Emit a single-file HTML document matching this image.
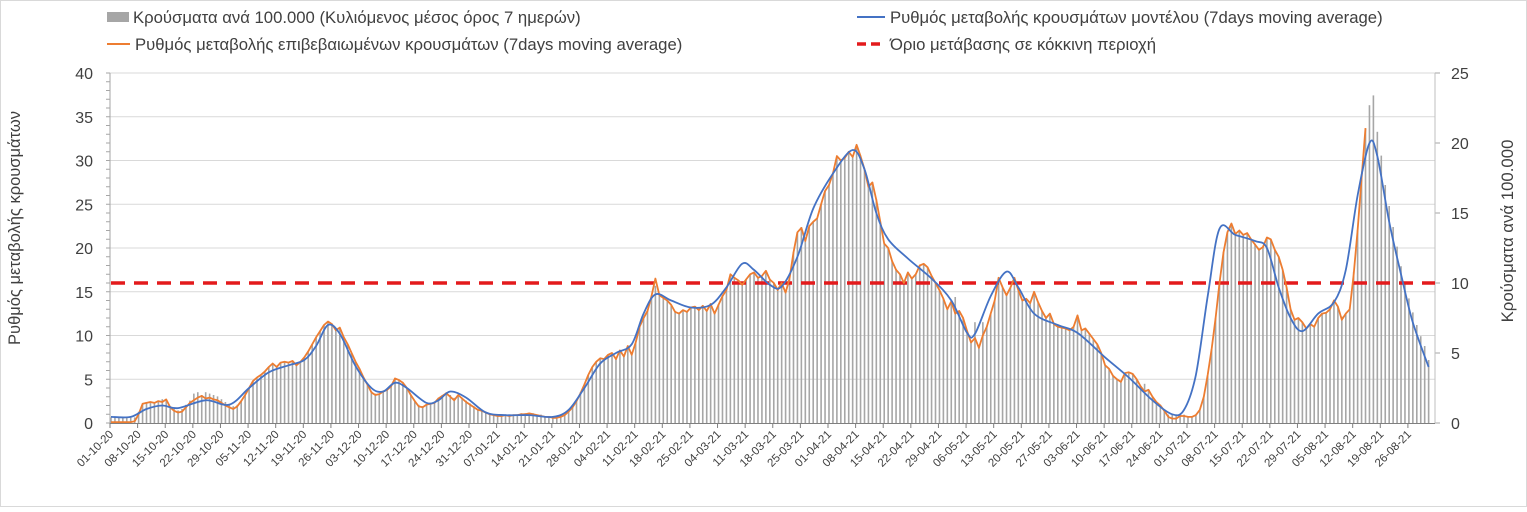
<!DOCTYPE html>
<html><head><meta charset="utf-8">
<style>
html,body{margin:0;padding:0;background:#fff;}
svg text{font-family:"Liberation Sans",sans-serif;fill:#404040;}
</style></head>
<body>
<svg id="chart" width="1527" height="507" viewBox="0 0 1527 507" xmlns="http://www.w3.org/2000/svg">
<rect x="0.5" y="0.5" width="1526" height="506" fill="#fff" stroke="#d9d9d9"/>
<g id="grid"></g>
<g id="bars"></g>
<g id="axes"></g>
<g id="lines"></g>
<g id="legend">
  <g>
    <rect x="107" y="12" width="22" height="10" fill="#a6a6a6"/>
    <text x="133" y="23" font-size="16.7">Κρούσματα ανά 100.000 (Κυλιόμενος μέσος όρος 7 ημερών)</text>
  </g>
  <g>
    <line x1="857" y1="17" x2="885" y2="17" stroke="#4472c4" stroke-width="2"/>
    <text x="890" y="23" font-size="16.7">Ρυθμός μεταβολής κρουσμάτων μοντέλου (7days moving average)</text>
  </g>
  <g>
    <line x1="107" y1="44" x2="130" y2="44" stroke="#ed7d31" stroke-width="2"/>
    <text x="135" y="50" font-size="16.7">Ρυθμός μεταβολής επιβεβαιωμένων κρουσμάτων (7days moving average)</text>
  </g>
  <g>
    <line x1="857" y1="44" x2="885" y2="44" stroke="#e31a1c" stroke-width="3.5" stroke-dasharray="9,5"/>
    <text x="890" y="50" font-size="16.7">Όριο μετάβασης σε κόκκινη περιοχή</text>
  </g>
</g>
<text transform="translate(20,228) rotate(-90)" text-anchor="middle" font-size="16.5">Ρυθμός μεταβολής κρουσμάτων</text>
<text transform="translate(1513,231) rotate(-90)" text-anchor="middle" font-size="16.8">Κρούσματα ανά 100.000</text>
</svg>
<script>
const leftTicks = [0,5,10,15,20,25,30,35,40];
const rightTicks = [0,5,10,15,20,25];
const threshold = 16;
const confirmedRate = [
0.1,0.1,0.1,0.1,0.1,0.1,0.2,
1.0,2.2,2.3,2.4,2.3,2.5,2.4,
2.7,1.8,1.4,1.2,1.3,1.8,2.3,
2.6,2.9,3.1,2.8,2.9,2.7,2.6,
2.3,2.0,1.8,1.6,1.9,2.5,3.2,
4.0,4.8,5.2,5.5,5.9,6.4,6.8,
6.4,6.9,7.0,6.9,7.1,6.6,7.0,
7.5,8.2,9.0,9.8,10.5,11.2,11.6,
11.3,10.6,10.9,9.8,9.0,8.0,7.0,
6.2,5.2,4.4,3.5,3.2,3.3,3.6,
3.8,4.2,5.1,4.9,4.6,4.0,3.2,
2.5,1.9,1.8,2.1,2.2,2.3,2.8,
3.1,3.4,3.0,2.6,3.2,2.8,2.4,
2.1,1.8,1.5,1.4,1.2,1.0,0.9,
0.8,0.8,0.9,0.8,0.9,0.9,1.0,
1.0,1.1,1.0,0.9,0.8,0.7,0.7,
0.6,0.6,0.7,0.9,1.3,1.8,2.5,
3.4,4.4,5.5,6.4,7.0,7.4,7.3,
7.8,8.0,7.3,8.3,7.6,8.8,7.8,
9.2,11.0,12.0,12.8,14.5,16.5,14.6,
14.3,14.0,13.5,12.7,12.5,12.9,12.7,
13.2,13.3,12.9,13.4,12.8,13.6,12.5,
13.5,14.5,15.2,17.0,16.6,16.3,15.8,
16.4,17.0,17.2,16.6,16.8,17.4,16.4,
16.0,15.2,16.0,14.9,16.5,19.5,21.8,
22.3,20.8,22.5,23.0,23.4,25.0,26.5,
27.2,28.5,30.5,30.0,30.3,31.0,30.4,
31.8,30.5,29.0,27.0,27.5,25.5,23.0,
20.5,20.0,18.5,17.5,17.0,16.0,17.2,
16.5,17.0,18.0,18.2,17.8,16.8,16.0,
15.2,14.2,13.0,13.9,12.5,12.8,12.0,
10.5,9.2,9.7,8.6,10.0,11.0,12.5,
14.0,16.6,15.5,14.6,15.5,16.6,15.2,
14.0,14.2,13.7,15.0,13.8,12.8,12.0,
12.5,11.3,11.0,10.9,10.8,10.6,11.0,
12.3,10.6,10.8,10.2,9.6,9.0,8.0,
6.6,6.2,5.4,5.0,4.7,5.7,5.8,
5.6,5.0,4.2,3.6,3.8,3.0,2.4,
2.0,1.4,0.7,0.5,0.5,0.8,0.8,
0.7,0.7,0.9,1.5,3.0,5.5,8.5,
12.0,16.0,19.5,21.8,22.8,21.6,22.0,
21.5,21.7,21.0,20.4,19.8,20.1,21.2,
21.0,19.8,19.0,17.5,15.5,13.0,11.8,
12.0,11.5,10.8,11.3,11.0,12.0,12.5,
12.6,13.0,14.0,13.3,11.8,12.5,13.0,
17.0,22.0,28.0,33.7];
const casesPer100k = [
0.4,0.4,0.4,0.4,0.4,0.4,0.4,
0.8,1.4,1.5,1.5,1.5,1.6,1.7,
1.6,1.2,1.0,0.9,1.0,1.3,1.6,
2.1,2.2,2.0,2.2,2.1,2.0,1.9,
1.7,1.5,1.3,1.2,1.3,1.6,2.0,
2.5,3.0,3.2,3.4,3.7,4.0,4.2,
4.1,4.3,4.4,4.3,4.4,4.2,4.4,
4.7,5.1,5.6,6.1,6.6,7.0,7.2,
7.1,6.7,6.8,6.1,5.6,5.0,4.4,
3.9,3.3,2.8,2.3,2.1,2.1,2.3,
2.4,2.7,3.2,3.1,2.9,2.5,2.0,
1.6,1.3,1.2,1.3,1.4,1.5,1.8,
2.0,2.2,2.0,1.8,2.0,1.8,1.6,
1.4,1.2,1.0,0.9,0.8,0.7,0.6,
0.6,0.6,0.6,0.6,0.6,0.6,0.7,
0.7,0.7,0.7,0.6,0.6,0.5,0.5,
0.5,0.5,0.5,0.6,0.8,1.1,1.6,
2.2,2.8,3.4,4.0,4.4,4.6,4.6,
4.9,5.0,4.6,5.2,4.8,5.5,5.0,
5.8,6.9,7.5,8.0,9.1,9.8,9.2,
9.0,8.8,8.4,8.0,7.9,8.1,8.0,
8.3,8.3,8.1,8.4,8.0,8.5,8.0,
8.5,9.1,9.6,10.6,10.4,10.2,9.9,
10.3,10.6,10.8,10.4,10.5,10.9,10.3,
10.0,9.6,10.0,9.4,10.3,12.2,13.6,
14.0,13.1,14.1,14.4,14.6,15.6,16.6,
17.0,17.8,19.1,18.8,18.9,19.4,19.0,
19.7,19.1,18.1,16.9,17.2,16.0,14.4,
12.8,12.5,11.6,11.0,10.6,10.0,10.8,
10.3,10.6,11.2,11.4,11.1,10.5,10.0,
9.5,8.9,8.2,8.7,9.0,8.0,7.5,
6.6,5.8,7.2,5.4,7.2,6.9,7.8,
8.8,10.4,9.7,9.1,9.7,10.4,9.5,
8.8,8.9,8.6,9.4,8.6,8.0,7.5,
7.8,7.1,6.9,6.8,6.8,6.6,6.9,
7.7,6.6,6.8,6.4,6.0,5.6,5.0,
4.1,3.9,3.4,3.1,2.9,3.6,3.6,
3.5,3.1,2.6,2.8,2.4,1.9,1.5,
1.3,0.9,0.6,0.6,0.6,0.6,0.6,
0.5,0.5,0.6,0.9,1.9,3.4,5.3,
7.5,10.0,12.2,13.6,14.2,13.5,13.7,
13.4,13.6,13.1,12.8,12.4,12.6,13.2,
13.1,12.4,11.9,10.9,9.7,8.1,7.4,
7.5,7.2,6.8,7.1,6.9,7.5,7.8,
7.9,8.1,8.8,8.3,7.6,7.8,8.3,
10.8,13.8,17.5,21.0,
22.7,23.4,20.8,19.1,17.0,15.5,14.0,12.6,11.2,10.0,8.9,7.9,7.0,6.2,5.5,4.5];
const modelDays = [0,5,9,13,17,24,30,35,40,45,49,52,55,58,62,66,69,72,75,80,83,86,90,95,100,106,112,116,120,124,128,132,135,138,142,147,152,156,160,163,167,170,174,178,183,188,191,194,197,202,208,213,217,219,223,227,230,234,240,245,252,258,264,269,272,275,278,281,285,290,293,296,299,302,306,310,313,316,319,321,324,327,330,334];
const modelRate = [0.7,0.7,1.6,2.0,1.7,2.6,2.1,4.0,5.8,6.6,7.2,8.8,11.2,10.2,6.5,4.0,3.6,4.6,4.0,2.3,2.6,3.6,2.9,1.2,0.9,0.9,0.7,1.5,4.0,6.8,8.0,9.0,12.5,14.7,14.0,13.2,13.5,15.5,18.2,17.5,15.8,15.6,19.0,24.5,28.5,31.2,29.0,24.0,21.0,18.8,16.5,14.0,10.3,10.2,14.5,17.3,15.5,12.5,11.2,10.3,7.5,5.2,2.6,1.0,1.5,5.5,14.5,22.2,21.5,20.8,20.0,15.5,12.0,10.5,12.5,13.8,17.5,26.0,32.0,30.5,23.0,17.0,11.5,6.4];
const dateLabels = ["01-10-20","08-10-20","15-10-20","22-10-20","29-10-20","05-11-20","12-11-20","19-11-20","26-11-20","03-12-20","10-12-20","17-12-20","24-12-20","31-12-20","07-01-21","14-01-21","21-01-21","28-01-21","04-02-21","11-02-21","18-02-21","25-02-21","04-03-21","11-03-21","18-03-21","25-03-21","01-04-21","08-04-21","15-04-21","22-04-21","29-04-21","06-05-21","13-05-21","20-05-21","27-05-21","03-06-21","10-06-21","17-06-21","24-06-21","01-07-21","08-07-21","15-07-21","22-07-21","29-07-21","05-08-21","12-08-21","19-08-21","26-08-21"];

const NS="http://www.w3.org/2000/svg";
const X0=111, DX=3.945, Y0=423, YTOP=73, XR=1435;
const xDay=d=>X0+DX*d;
const yL=v=>Y0-(Y0-YTOP)*v/40;
const yR=v=>Y0-(Y0-YTOP)*v/25;
function mk(tag,attrs,parent){const e=document.createElementNS(NS,tag);for(const k in attrs)e.setAttribute(k,attrs[k]);parent.appendChild(e);return e;}
const grid=document.getElementById('grid'),axes=document.getElementById('axes'),bars=document.getElementById('bars'),lines=document.getElementById('lines');

leftTicks.forEach(t=>{
  if(t>0){const g=mk('line',{x1:X0-1,x2:XR,y1:yL(t),y2:yL(t),stroke:'#d9d9d9','stroke-width':1},grid);
  
  }
  const l=mk('text',{x:93,y:yL(t)+6,'text-anchor':'end','font-size':16},axes);
  l.textContent=t;
  
  
});
for(let v=0;v<=40;v++){mk('line',{x1:X0-5,x2:X0-1,y1:yL(v),y2:yL(v),stroke:'#a6a6a6','stroke-width':1},axes);}
rightTicks.forEach(t=>{
  const l=mk('text',{x:1451,y:yR(t)+6,'text-anchor':'start','font-size':16},axes);
  l.textContent=t;
  
  
  mk('line',{x1:XR,x2:XR+5,y1:yR(t),y2:yR(t),stroke:'#a6a6a6'},axes);
});
mk('line',{x1:X0-1,x2:X0-1,y1:YTOP,y2:Y0,stroke:'#a6a6a6'},axes);
mk('line',{x1:XR,x2:XR,y1:YTOP,y2:Y0,stroke:'#bfbfbf'},axes);
mk('line',{x1:X0-1,x2:XR,y1:Y0+0.5,y2:Y0+0.5,stroke:'#7f7f7f'},axes);
dateLabels.forEach((lab,i)=>{
  const x=xDay(i*7)-1;
  mk('line',{x1:x,x2:x,y1:Y0,y2:Y0+5,stroke:'#7f7f7f'},axes);
  const t=mk('text',{transform:`translate(${x+4},${Y0+12}) rotate(-45)`,'text-anchor':'end','font-size':11.5},axes);
  t.textContent=lab;
  
  
});

casesPer100k.forEach((v,d)=>{
  const b=mk('rect',{x:xDay(d)-0.8,y:yR(v),width:1.6,height:Y0-yR(v),fill:'#a6a6a6'},bars);
  
  
});

const th=mk('line',{x1:X0,x2:XR,y1:yL(threshold),y2:yL(threshold),stroke:'#e31a1c','stroke-width':3.5,'stroke-dasharray':'14,9'},lines);



const op=confirmedRate.map((v,d)=>(d?'L':'M')+xDay(d).toFixed(1)+','+yL(v).toFixed(1)).join('');
const o=mk('path',{d:op,fill:'none',stroke:'#ed7d31','stroke-width':1.8,'stroke-linejoin':'round'},lines);



const pts=modelDays.map((d,i)=>[xDay(d),yL(modelRate[i])]);
let mp='M'+pts[0][0]+','+pts[0][1];
for(let i=0;i<pts.length-1;i++){
  const p0=pts[Math.max(0,i-1)],p1=pts[i],p2=pts[i+1],p3=pts[Math.min(pts.length-1,i+2)];
  const c1=[p1[0]+(p2[0]-p0[0])/6,p1[1]+(p2[1]-p0[1])/6];
  const c2=[p2[0]-(p3[0]-p1[0])/6,p2[1]-(p3[1]-p1[1])/6];
  mp+=`C${c1[0].toFixed(1)},${c1[1].toFixed(1)} ${c2[0].toFixed(1)},${c2[1].toFixed(1)} ${p2[0].toFixed(1)},${p2[1].toFixed(1)}`;
}
const m=mk('path',{d:mp,fill:'none',stroke:'#4472c4','stroke-width':1.8},lines);


</script>
</body></html>
